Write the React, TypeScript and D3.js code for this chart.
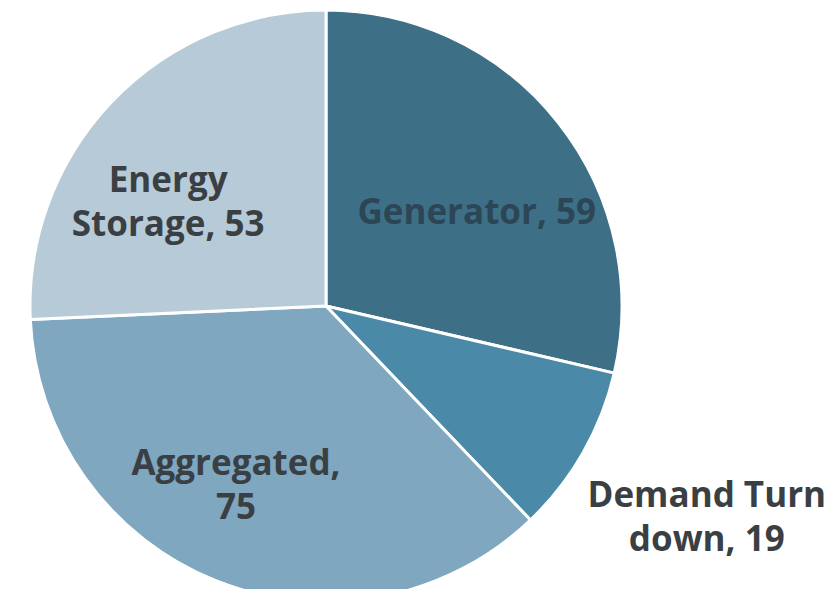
import React, { useEffect, useRef } from 'react';
import * as d3 from 'd3';

const categories = ['Generator', 'Demand Turn down', 'Aggregated', 'Energy Storage'];
const values = [59, 19, 75, 53];
const labelLines = [['Generator, 59'], ['Demand Turn', 'down, 19'], ['Aggregated,', '75'], ['Energy', 'Storage, 53']];
const colors = ['#3d6f87', '#4a89a8', '#7fa7bf', '#b6cad8'];

export default function App() {
  const ref = useRef<SVGSVGElement>(null);

  useEffect(() => {
    const width = 838, height = 597;
    const cx = 326, cy = 306, r = 296;
    const svg = d3.select(ref.current);
    svg.selectAll('*').remove();

    const data = categories.map((c, i) => ({ name: c, value: values[i], lines: labelLines[i], color: colors[i] }));

    const pie = d3.pie<any>().sort(null).value((d) => d.value);
    const arc = d3.arc<any>().innerRadius(0).outerRadius(r);
    const arcs = pie(data);

    const g = svg.append('g').attr('transform', `translate(${cx},${cy})`);

    g.selectAll('path')
      .data(arcs)
      .enter()
      .append('path')
      .attr('d', arc)
      .attr('fill', (d) => d.data.color)
      .attr('stroke', '#fff')
      .attr('stroke-width', 3)
      .attr('stroke-linejoin', 'round');

    // label radius / angle nudges to sit like the original
    const labelR = [178, 435, 200, 189];
    const angleShift = [6.3, -0.8, 4.9, -10.3];

    arcs.forEach((a, i) => {
      const mid = (a.startAngle + a.endAngle) / 2 + (angleShift[i] * Math.PI) / 180;
      const x = Math.sin(mid) * labelR[i];
      const y = -Math.cos(mid) * labelR[i];
      const lines = a.data.lines;
      const lh = 44;
      const t = g
        .append('text')
        .attr('text-anchor', 'middle')
        .attr('font-family', 'Open Sans, sans-serif')
        .attr('font-weight', 'bold')
        .attr('font-size', 35)
        .attr('fill', i === 0 ? '#2d4656' : '#3a3f44');
      lines.forEach((l, j) => {
        t.append('tspan')
          .attr('x', x)
          .attr('y', y + (j - (lines.length - 1) / 2) * lh)
          .attr('dy', '0.35em')
          .text(l);
      });
    });

    svg.attr('width', width).attr('height', height);
  }, []);

  return (
    <div style={{ margin: -8 }}>
      <svg ref={ref} width={838} height={597} style={{ display: 'block', background: '#fff' }} />
    </div>
  );
}
